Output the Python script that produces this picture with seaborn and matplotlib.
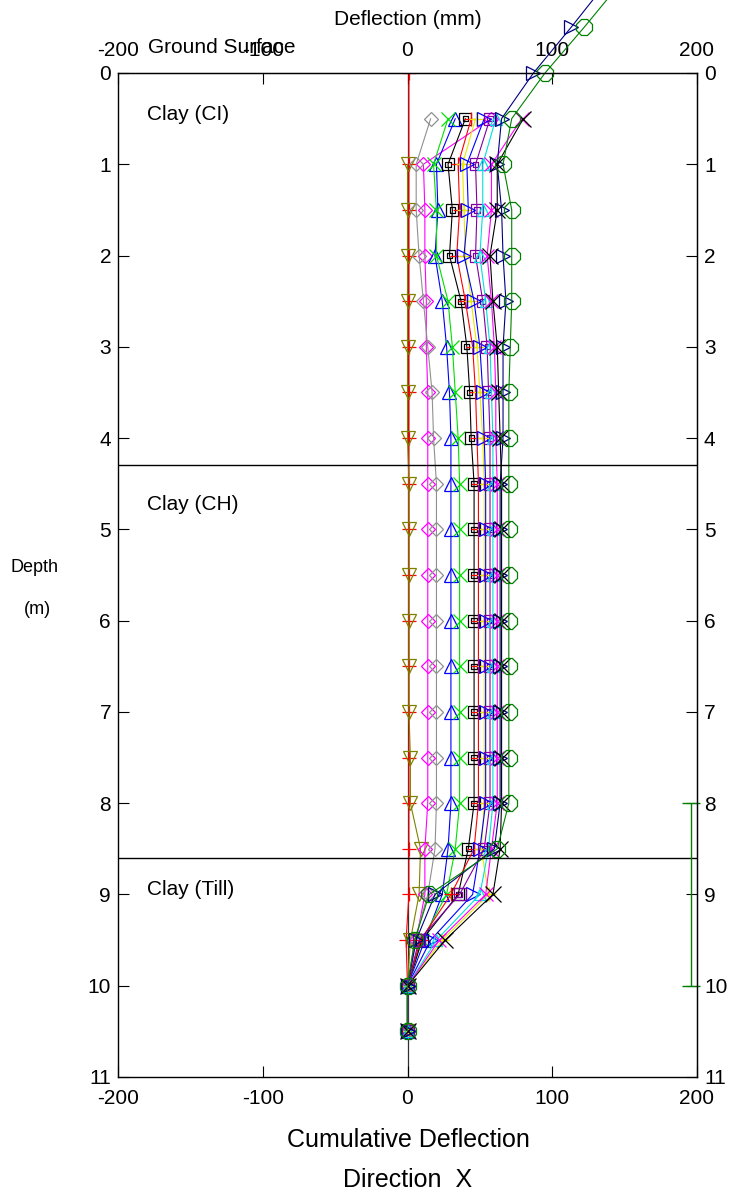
import numpy as np
import pandas as pd
import matplotlib
matplotlib.use("Agg")
import matplotlib.pyplot as plt
import seaborn as sns

sns.set_style("white")
plt.rcParams['font.family'] = ['Liberation Sans', 'DejaVu Sans']
plt.rcParams['axes.unicode_minus'] = False
plt.rcParams['text.color'] = 'black'
plt.rcParams['axes.labelcolor'] = 'black'
plt.rcParams['xtick.color'] = 'black'
plt.rcParams['ytick.color'] = 'black'

N = np.nan
DEPTH = [-1.0, -0.5, 0.0, 0.5, 1.0, 1.5, 2.0, 2.5, 3.0, 3.5, 4.0, 4.5,
         5.0, 5.5, 6.0, 6.5, 7.0, 7.5, 8.0, 8.5, 9.0, 9.5, 10.0, 10.5]

red_plus   = [N, N, 1, N, 1, 1, 1, 1, 1, 1, 1, 1, 1, 1, 1, 1, 1, 1, 1, 1, 1, -1, 0, 0]
olive_v    = [N, N, N, N, 0, 0, 0, 0, 0, 0, 0, 1, 1, 1, 1, 1, 1, 2, 2, 9, 8, 2, 0, 0]
magenta_d  = [N, N, N, 58, 11, 12, 12, 13, 13, 14, 14, 14, 14, 14, 14, 14, 14, 14, 14, 12, 12, 6, 0, 0]
gray_d     = [N, N, N, 16, 6, 6, 8, 11, 14, 17, 18, 20, 20, 20, 20, 20, 20, 20, 20, 19, 14, 5, 0, 0]
blue_up    = [N, N, N, 33, 20, 21, 19, 24, 27, 29, 30, 30, 30, 30, 30, 30, 30, 30, 30, 28, 24, 12, 0, 0]
green_x    = [N, N, N, 28, 18, 20, 20, 28, 31, 33, 35, 36, 36, 36, 36, 36, 36, 36, 36, 33, 27, 10, 0, 0]
black_sq   = [N, N, N, 40, 28, 31, 29, 37, 41, 43, 44, 46, 46, 46, 46, 46, 46, 46, 46, 42, 35, 10, 0, 0]
red2_plus  = [N, N, N, 44, 35, 36, 34, 40, 45, 47, 48, 49, 49, 49, 49, 49, 49, 49, 49, 46, 30, 9, 0, 0]
yellow_p   = [N, N, N, 47, 38, 39, 40, 44, 48, 50, 52, 53, 53, 53, 53, 53, 53, 53, 53, 51, 56, 24, 0, 0]
blue_right = [N, N, N, 53, 41, 42, 39, 46, 50, 52, 53, 54, 54, 54, 54, 54, 54, 54, 54, 50, 45, 16, 0, 0]
purple_sq  = [N, N, N, 57, 47, 48, 47, 52, 55, 56, 57, 57, 57, 57, 57, 57, 57, 57, 57, 53, 36, 8, 0, 0]
cyan_up    = [N, N, N, 61, 52, 52, 50, 54, 57, 58, 59, 59, 59, 59, 59, 59, 59, 59, 59, 56, 50, 20, 0, 0]
magenta_x  = [N, N, N, 79, 58, 58, 55, 58, 60, 61, 61, 62, 62, 62, 62, 62, 62, 62, 62, 58, 54, 22, 0, 0]
navy_right = [138, 113, 87, 65, 62, 65, 66, 68, 66, 66, 66, 64, 64, 64, 64, 64, 64, 64, 64, 60, 19, 6, 0, 0]
black_x    = [N, N, N, 80, 62, 62, 57, 59, 62, 63, 64, 65, 65, 65, 65, 65, 65, 65, 65, 64, 59, 26, 0, 0]
green_oct  = [148, 122, 95, 72, 66, 72, 72, 72, 71, 70, 70, 70, 70, 70, 70, 70, 70, 70, 70, 62, 15, 5, 0, 0]

SERIES = [
    (red_plus,   '#FF0000', '+', 10),
    (olive_v,    '#808000', 'v', 10),
    (magenta_d,  '#FF00FF', 'D', 7),
    (gray_d,     '#909090', 'D', 7),
    (blue_up,    '#0000FF', '^', 10),
    (green_x,    '#00E000', 'x', 10),
    (black_sq,   '#000000', 's', 9),
    (red2_plus,  '#FF0000', '+', 10),
    (yellow_p,   '#E8E800', '+', 10),
    (blue_right, '#0000FF', '>', 10),
    (purple_sq,  '#8000A0', 's', 9),
    (cyan_up,    '#00E0E0', '^', 9),
    (magenta_x,  '#FF00FF', 'x', 10),
    (navy_right, '#000080', '>', 10),
    (black_x,    '#000000', 'x', 11),
    (green_oct,  '#008000', '8', 12),
]

LAYERS = ['Clay (CI)', 'Clay (CH)', 'Clay (Till)']
LAYER_DEPTH = [0.45, 4.73, 8.95]
BOUNDARIES = [4.3, 8.6]
XTICKS = [-200, -100, 0, 100, 200]
YTICKS = list(range(12))
BAR_X = 196
BAR_RANGE = [8, 10]

fig = plt.figure(figsize=(7.32, 11.97), dpi=100)
ax = fig.add_axes([118/732, 1-1077/1197, (697-118)/732, (1077-73)/1197])

for vals, col, mk, ms in SERIES:
    df = pd.DataFrame({'x': vals, 'y': DEPTH}).dropna()
    top = df['y'].min() < 0
    sns.lineplot(data=df, x='x', y='y', sort=False, estimator=None, ax=ax,
                 color=col, lw=0.8, marker=mk, markersize=ms,
                 markerfacecolor='none', markeredgecolor=col,
                 markeredgewidth=0.9, clip_on=not top, legend=False)
    if mk == 's':
        sns.scatterplot(data=df, x='x', y='y', ax=ax, marker='s', s=14,
                        facecolor='none', edgecolor=col, linewidth=0.9,
                        legend=False)

ax.axvline(0, color='#303030', lw=0.9, zorder=0)
for b in BOUNDARIES:
    ax.axhline(b, color='black', lw=1.0)

ax.errorbar([BAR_X], [np.mean(BAR_RANGE)],
            yerr=[[np.mean(BAR_RANGE) - BAR_RANGE[0]], [BAR_RANGE[1] - np.mean(BAR_RANGE)]],
            fmt='none', ecolor='#008000', elinewidth=1.0, capsize=6.5, capthick=1.0,
            clip_on=False)

ax.set_xlim(-200, 200)
ax.set_ylim(11, 0)
ax.set_xticks(XTICKS)
ax.set_yticks(YTICKS)
ax.set_xlabel('')
ax.set_ylabel('')
ax.tick_params(axis='both', direction='in', length=8, width=0.8, labelsize=15,
               bottom=True, left=True, colors='black')
ax.tick_params(axis='x', pad=9)
ax.tick_params(axis='y', pad=5)
for s in ax.spines.values():
    s.set_color('black')
    s.set_linewidth(1.0)

secx = ax.secondary_xaxis('top')
secx.set_xticks(XTICKS)
secx.tick_params(direction='in', length=8, width=0.8, labelsize=15, pad=9, colors='black')
secx.set_xlabel('Deflection (mm)', fontsize=15, labelpad=12, color='black')

secy = ax.secondary_yaxis('right')
secy.set_yticks(YTICKS)
secy.tick_params(direction='in', length=8, width=0.8, labelsize=15, pad=5, colors='black')

ax.text(-179, -0.28, 'Ground Surface', fontsize=15, ha='left', va='center', clip_on=False)
for name, d in zip(LAYERS, LAYER_DEPTH):
    ax.text(-180, d, name, fontsize=15, ha='left', va='center')

fig.text(35/732, 1-568/1197, 'Depth', fontsize=13, ha='center', va='center')
fig.text(37/732, 1-609/1197, '(m)', fontsize=13, ha='center', va='center')
fig.text(408/732, 1-1140/1197, 'Cumulative Deflection', fontsize=18, ha='center', va='center')
fig.text(408/732, 1-1180/1197, 'Direction  X', fontsize=18, ha='center', va='center')

fig.savefig('out.png', dpi=100)
